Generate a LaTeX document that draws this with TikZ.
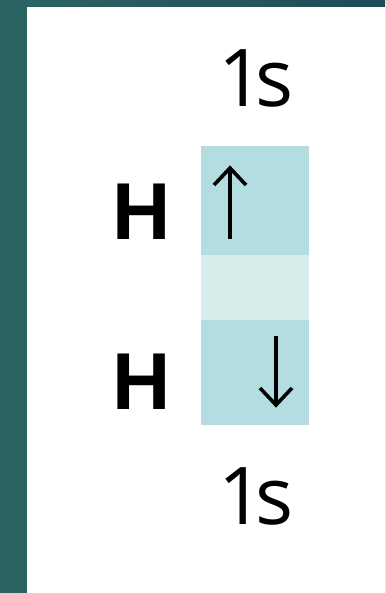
\documentclass[tikz,border=0pt]{standalone}
\usepackage{fontspec}
\newfontfamily\hfont{Liberation Sans}
\newfontfamily\orbfont{Open Sans}
\definecolor{frameA}{HTML}{2C6464}
\definecolor{frameB}{HTML}{1D4C57}
\definecolor{boxblue}{HTML}{B3DDE0}
\definecolor{boxlight}{HTML}{D9ECEC}
\tikzset{
  atomlabel/.style={font=\hfont\bfseries\fontsize{81}{81}\selectfont, anchor=base, inner sep=0pt},
  orblabel/.style={font=\orbfont\fontsize{80}{80}\selectfont, anchor=base, inner sep=0pt},
  spin/.style={line width=3.6pt, line cap=butt, line join=miter, black}
}
\newcommand{\orbname}{1\kern-9bp s}
\begin{document}
\begin{tikzpicture}[x=1bp, y=-1bp]
  \useasboundingbox (0,0) rectangle (385,593);
  % slide frame
  \shade[left color=frameA, right color=frameB] (0,0) rectangle (385,593);
  \fill[white] (27,7) rectangle (385,593);
  % orbital boxes
  \fill[boxblue] (201,146) rectangle (309,255);
  \fill[boxlight] (201,255) rectangle (309,320);
  \fill[boxblue] (201,320) rectangle (309,425);
  % labels
  \node[orblabel] (s1top) at (256,107) {\orbname};
  \node[atomlabel] (h1) at (142,239) {H};
  \node[atomlabel] (h2) at (142,409) {H};
  \node[orblabel] (s1bot) at (256,524) {\orbname};
  % electron spins
  \coordinate (uptip) at (230,168);
  \coordinate (upend) at (230,239);
  \coordinate (dntip) at (276,405);
  \coordinate (dnend) at (276,336);
  \draw[spin] (upend) -- (uptip);
  \draw[spin] ([shift={(-16,17)}]uptip) -- (uptip) -- ([shift={(16,17)}]uptip);
  \draw[spin] (dnend) -- (dntip);
  \draw[spin] ([shift={(-16,-17)}]dntip) -- (dntip) -- ([shift={(16,-17)}]dntip);
\end{tikzpicture}
\end{document}
